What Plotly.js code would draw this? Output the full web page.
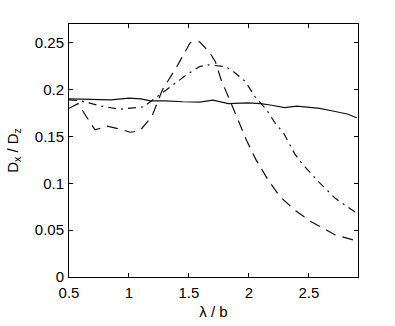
<!DOCTYPE html>
<html>
<head>
<meta charset="utf-8">
<script src="https://cdn.plot.ly/plotly-3.0.1.min.js"></script>
<style>
  html, body { margin: 0; padding: 0; background: #fff; }
  #chart { width: 395px; height: 326px; }
</style>
</head>
<body>
<div id="chart"></div>
<script>
// values
const solidX = [0.5, 0.7, 0.85, 1.0, 1.1, 1.18, 1.3, 1.45, 1.59, 1.7, 1.83, 1.99, 2.1, 2.19, 2.3, 2.4, 2.5, 2.59, 2.72, 2.82, 2.9];
const solidY = [0.190, 0.189, 0.189, 0.191, 0.190, 0.188, 0.188, 0.187, 0.1866, 0.1887, 0.185, 0.1858, 0.185, 0.1833, 0.1808, 0.1823, 0.181, 0.180, 0.1766, 0.174, 0.170];

const dashX = [0.5, 0.575, 0.717, 0.817, 0.92, 1.01, 1.09, 1.19, 1.28, 1.4, 1.51, 1.59, 1.6, 1.675, 1.72, 1.77, 1.84, 1.91, 1.98, 2.06, 2.16, 2.26, 2.38, 2.52, 2.72, 2.9];
const dashY = [0.180, 0.185, 0.157, 0.161, 0.158, 0.1545, 0.156, 0.171, 0.200, 0.2246, 0.250, 0.251, 0.2496, 0.239, 0.230, 0.210, 0.189, 0.168, 0.146, 0.125, 0.1036, 0.0858, 0.0716, 0.059, 0.0449, 0.0385];

const dashDotX = [0.5, 0.6, 0.76, 0.925, 1.12, 1.2, 1.32, 1.48, 1.59, 1.66, 1.8, 1.855, 1.97, 2.05, 2.15, 2.22, 2.29, 2.38, 2.44, 2.58, 2.72, 2.86, 2.9];
const dashDotY = [0.189, 0.188, 0.1826, 0.179, 0.1815, 0.189, 0.200, 0.2157, 0.2246, 0.2264, 0.2246, 0.221, 0.2086, 0.1926, 0.178, 0.164, 0.1535, 0.132, 0.1214, 0.1018, 0.084, 0.0716, 0.068];

const xTicks = [0.5, 1, 1.5, 2, 2.5];
const yTicks = [0, 0.05, 0.1, 0.15, 0.2, 0.25];

const lineColor = '#111';

let data = [
    {
        x: solidX,
        y: solidY,
        type: 'scatter',
        mode: 'lines',
        line: { color: lineColor, width: 1.2 },
    },
    {
        x: dashX,
        y: dashY,
        type: 'scatter',
        mode: 'lines',
        line: { color: lineColor, width: 1.2, dash: '11px,7px' },
    },
    {
        x: dashDotX,
        y: dashDotY,
        type: 'scatter',
        mode: 'lines',
        line: { color: lineColor, width: 1.2, dash: '8px,5px,2px,5px' },
    },
];

let axisCommon = {
    showgrid: false,
    zeroline: false,
    showline: true,
    linecolor: '#000',
    linewidth: 1,
    mirror: 'ticks',
    ticks: 'inside',
    ticklen: 4,
    tickcolor: '#000',
    tickfont: { size: 15, color: '#000' },
};

let layout = {
    width: 395,
    height: 326,
    showlegend: false,
    margin: { l: 69, r: 37, t: 24, b: 49 },
    paper_bgcolor: '#fff',
    plot_bgcolor: '#fff',
    font: { family: 'Liberation Sans, Arial, sans-serif', color: '#000' },
    xaxis: Object.assign({}, axisCommon, {
        range: [0.5, 2.91],
        tickvals: xTicks,
        ticktext: xTicks.map(String),
        ticklabelstandoff: 2,
        title: { text: 'λ / b', font: { size: 15 }, standoff: 6 },
    }),
    yaxis: Object.assign({}, axisCommon, {
        range: [0, 0.27],
        tickvals: yTicks,
        ticktext: yTicks.map(String),
        ticklabelstandoff: 1,
        title: { text: 'D<sub>x</sub> / D<sub>z</sub>', font: { size: 15 }, standoff: 12 },
    }),
};

Plotly.newPlot('chart', data, layout, { displayModeBar: false, staticPlot: true });
</script>
</body>
</html>
